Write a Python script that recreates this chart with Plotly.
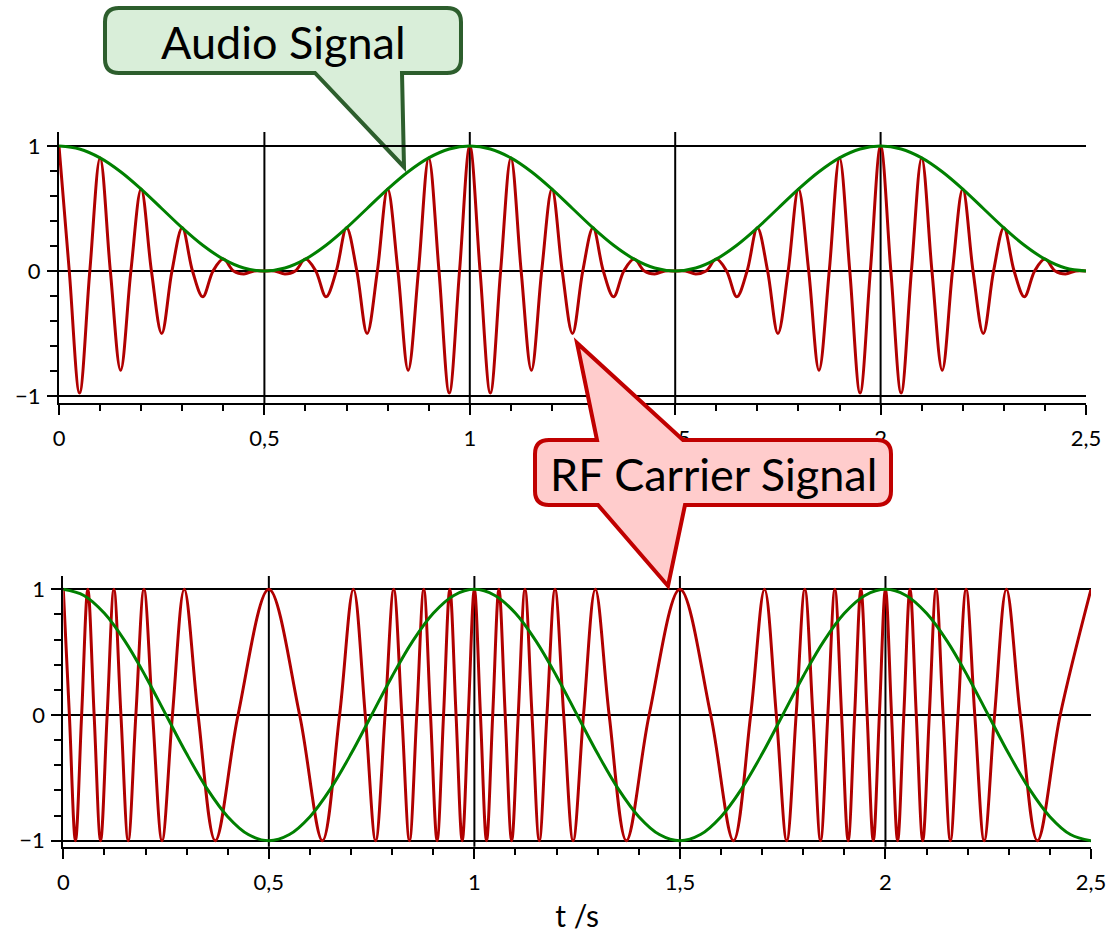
import plotly.graph_objects as go

W, H = 1119, 933
FONT = "Lato"
RED = "#b00000"
GREEN = "#008000"

# ---------------- data ----------------
# AM panel: carrier samples at every quarter period (0.025 s), extrema and zero crossings
am_step = 0.025
am_carrier = [
    1, 0, -0.976, 0, 0.905, 0, -0.794, 0, 0.655, 0, -0.5, 0, 0.345, 0, -0.206, 0, 0.095, 0, -0.024, 0,
    0, 0, -0.024, 0, 0.095, 0, -0.206, 0, 0.345, 0, -0.5, 0, 0.655, 0, -0.794, 0, 0.905, 0, -0.976, 0,
    1, 0, -0.976, 0, 0.905, 0, -0.794, 0, 0.655, 0, -0.5, 0, 0.345, 0, -0.206, 0, 0.095, 0, -0.024, 0,
    0, 0, -0.024, 0, 0.095, 0, -0.206, 0, 0.345, 0, -0.5, 0, 0.655, 0, -0.794, 0, 0.905, 0, -0.976, 0,
    1, 0, -0.976, 0, 0.905, 0, -0.794, 0, 0.655, 0, -0.5, 0, 0.345, 0, -0.206, 0, 0.095, 0, -0.024, 0,
    0,
]
# audio envelope samples every 0.05 s
audio_step = 0.05
am_audio = [
    1, 0.976, 0.905, 0.794, 0.655, 0.5, 0.345, 0.206, 0.095, 0.024,
    0, 0.024, 0.095, 0.206, 0.345, 0.5, 0.655, 0.794, 0.905, 0.976,
    1, 0.976, 0.905, 0.794, 0.655, 0.5, 0.345, 0.206, 0.095, 0.024,
    0, 0.024, 0.095, 0.206, 0.345, 0.5, 0.655, 0.794, 0.905, 0.976,
    1, 0.976, 0.905, 0.794, 0.655, 0.5, 0.345, 0.206, 0.095, 0.024,
    0,
]
# FM panel: audio samples every 0.05 s
fm_audio = [
    1, 0.951, 0.809, 0.588, 0.309, 0, -0.309, -0.588, -0.809, -0.951,
    -1, -0.951, -0.809, -0.588, -0.309, 0, 0.309, 0.588, 0.809, 0.951,
    1, 0.951, 0.809, 0.588, 0.309, 0, -0.309, -0.588, -0.809, -0.951,
    -1, -0.951, -0.809, -0.588, -0.309, 0, 0.309, 0.588, 0.809, 0.951,
    1, 0.951, 0.809, 0.588, 0.309, 0, -0.309, -0.588, -0.809, -0.951,
    -1,
]
# FM carrier: times of peaks, zero crossings and troughs
fm_t = [
    0, 0.0148, 0.0296, 0.0446, 0.0597, 0.0750, 0.0907, 0.1067, 0.1231, 0.1402,
    0.1579, 0.1765, 0.1962, 0.2173, 0.2402, 0.2655, 0.2942, 0.3279, 0.3696, 0.4251,
    0.5, 0.5749, 0.6304, 0.6721, 0.7058, 0.7345, 0.7598, 0.7827, 0.8038, 0.8235,
    0.8421, 0.8598, 0.8769, 0.8933, 0.9093, 0.9250, 0.9403, 0.9554, 0.9704, 0.9852,
    1.0, 1.0148, 1.0296, 1.0446, 1.0597, 1.0750, 1.0907, 1.1067, 1.1231, 1.1402,
    1.1579, 1.1765, 1.1962, 1.2173, 1.2402, 1.2655, 1.2942, 1.3279, 1.3696, 1.4251,
    1.5, 1.5749, 1.6304, 1.6721, 1.7058, 1.7345, 1.7598, 1.7827, 1.8038, 1.8235,
    1.8421, 1.8598, 1.8769, 1.8933, 1.9093, 1.9250, 1.9403, 1.9554, 1.9704, 1.9852,
    2.0, 2.0148, 2.0296, 2.0446, 2.0597, 2.0750, 2.0907, 2.1067, 2.1231, 2.1402,
    2.1579, 2.1765, 2.1962, 2.2173, 2.2402, 2.2655, 2.2942, 2.3279, 2.3696, 2.4251,
    2.5,
]
fm_carrier = [
    1, 0, -1, 0, 1, 0, -1, 0, 1, 0, -1, 0, 1, 0, -1, 0, 1, 0, -1, 0,
    1, 0, -1, 0, 1, 0, -1, 0, 1, 0, -1, 0, 1, 0, -1, 0, 1, 0, -1, 0,
    1, 0, -1, 0, 1, 0, -1, 0, 1, 0, -1, 0, 1, 0, -1, 0, 1, 0, -1, 0,
    1, 0, -1, 0, 1, 0, -1, 0, 1, 0, -1, 0, 1, 0, -1, 0, 1, 0, -1, 0,
    1, 0, -1, 0, 1, 0, -1, 0, 1, 0, -1, 0, 1, 0, -1, 0, 1, 0, -1, 0,
    1,
]
grid_t = [0.5, 1, 1.5, 2]
x_range = [0, 2.5]
callout_audio = "Audio Signal"
callout_rf = "RF Carrier Signal"
x_title = "t /s"

t_am = [round(i * am_step, 4) for i in range(len(am_carrier))]
t_audio = [round(i * audio_step, 4) for i in range(len(am_audio))]


def fx(x):  # page pixel -> paper fraction
    return x / W


def fy(y):
    return 1 - y / H


fig = go.Figure()
line_kw = dict(shape="spline", width=3)
fig.add_trace(go.Scatter(x=t_am, y=am_carrier, mode="lines", line=dict(color=RED, **line_kw), xaxis="x", yaxis="y"))
fig.add_trace(go.Scatter(x=t_audio, y=am_audio, mode="lines", line=dict(color=GREEN, **line_kw), xaxis="x", yaxis="y"))
fig.add_trace(go.Scatter(x=fm_t, y=fm_carrier, mode="lines", line=dict(color=RED, **line_kw), xaxis="x2", yaxis="y2"))
fig.add_trace(go.Scatter(x=t_audio, y=fm_audio, mode="lines", line=dict(color=GREEN, **line_kw), xaxis="x2", yaxis="y2"))

tickfont = dict(family=FONT, size=22, color="black")
xcommon = dict(range=x_range, dtick=0.5, tick0=0, showline=True, linecolor="black", linewidth=2,
               ticks="outside", ticklen=10, tickwidth=2, tickcolor="black", tickfont=tickfont,
               ticklabelstandoff=5, showgrid=False, zeroline=False, automargin=False,
               minor=dict(dtick=0.1, ticks="outside", ticklen=6, tickwidth=2, tickcolor="black", showgrid=False))
ycommon = dict(dtick=1, tick0=0, showline=True, linecolor="black", linewidth=2,
               ticks="outside", ticklen=10, tickwidth=2, tickcolor="black", tickfont=tickfont,
               ticklabelstandoff=2, showgrid=True, gridcolor="black", gridwidth=2, zeroline=False,
               automargin=False,
               minor=dict(dtick=0.2, ticks="outside", ticklen=7, tickwidth=2, tickcolor="black", showgrid=False))

fig.update_layout(
    width=W, height=H, margin=dict(l=0, r=0, t=0, b=0, pad=0, autoexpand=False),
    autosize=False,
    paper_bgcolor="white", plot_bgcolor="white", showlegend=False,
    separators=",.",
    font=dict(family=FONT, color="black"),
    xaxis=dict(domain=[fx(59), fx(1086)], anchor="y", **xcommon),
    yaxis=dict(domain=[fy(403), fy(132)], anchor="x", range=[-1.056, 1.112], **ycommon),
    xaxis2=dict(domain=[fx(63.3), fx(1091)], anchor="y2",
                title=dict(text=x_title, font=dict(family=FONT, size=30, color="black"), standoff=14),
                **xcommon),
    yaxis2=dict(domain=[fy(846.7), fy(576)], anchor="x2", range=[-1.048, 1.106], **ycommon),
)

# vertical grid lines
shapes = []
for xr, yr in (("x", "y domain"), ("x2", "y2 domain")):
    for g in grid_t:
        shapes.append(dict(type="line", xref=xr, yref=yr, x0=g, x1=g, y0=0, y1=1,
                           line=dict(color="black", width=2), layer="below"))


def P(x, y):
    return f"{fx(x):.5f},{fy(y):.5f}"


def callout_path(L, T, R, B, r, top_tail=None, bottom_tail=None):
    s = f"M{P(L + r, T)}"
    if top_tail:
        a, tip, b = top_tail
        s += f" L{P(a, T)} L{P(*tip)} L{P(b, T)}"
    s += f" L{P(R - r, T)} Q{P(R, T)} {P(R, T + r)} L{P(R, B - r)} Q{P(R, B)} {P(R - r, B)}"
    if bottom_tail:
        a, tip, b = bottom_tail
        s += f" L{P(a, B)} L{P(*tip)} L{P(b, B)}"
    s += f" L{P(L + r, B)} Q{P(L, B)} {P(L, B - r)} L{P(L, T + r)} Q{P(L, T)} {P(L + r, T)} Z"
    return s


shapes.append(dict(type="path", xref="paper", yref="paper",
                   path=callout_path(105, 8, 461, 73, 14, bottom_tail=(402, (404, 167), 315)),
                   fillcolor="#d9eed9", line=dict(color="#2d5e2d", width=4), layer="below"))
shapes.append(dict(type="path", xref="paper", yref="paper",
                   path=callout_path(535, 440, 891, 505, 14, top_tail=(597, (577, 343), 683),
                                     bottom_tail=(685, (668, 586), 598)),
                   fillcolor="#ffcccc", line=dict(color="#c00000", width=4), layer="above"))
fig.update_layout(shapes=shapes)

fig.add_annotation(text=callout_audio, x=fx(283), y=fy(42), xref="paper", yref="paper",
                   showarrow=False, xanchor="center", yanchor="middle",
                   font=dict(family=FONT, size=45, color="black"))
fig.add_annotation(text=callout_rf, x=fx(713), y=fy(474), xref="paper", yref="paper",
                   showarrow=False, xanchor="center", yanchor="middle",
                   font=dict(family=FONT, size=45, color="black"))

# remove the default page margin so the figure sits at the window origin
fig.write_html("out.html", config={"displayModeBar": False},
               post_script="document.documentElement.style.overflow='hidden';"
                           "document.body.style.margin='0';document.body.style.overflow='hidden';")
